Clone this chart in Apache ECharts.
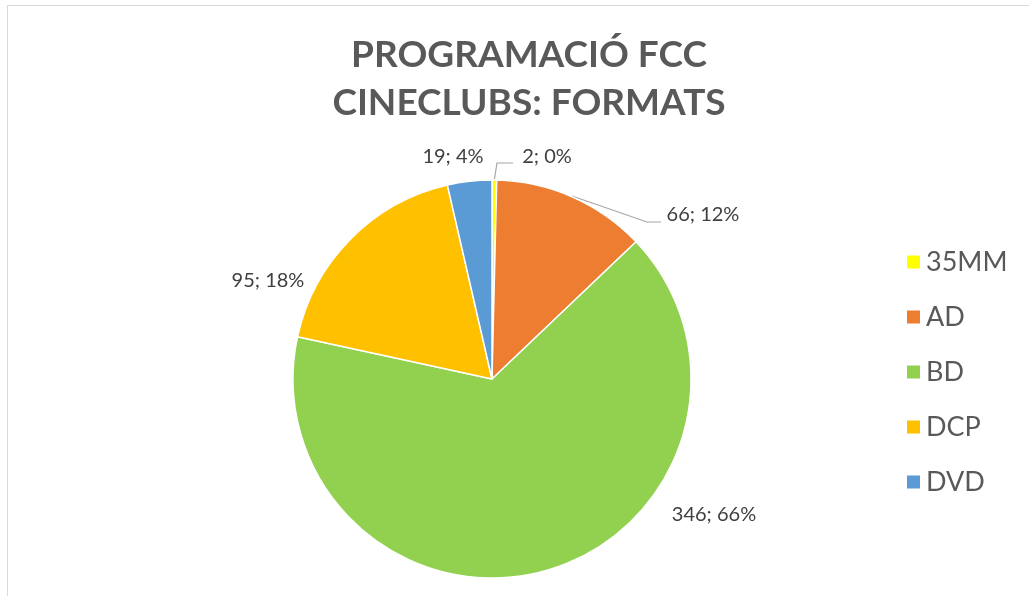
<!DOCTYPE html>
<html style="height: 100%">
<head>
<meta charset="utf-8">
<script src="https://cdn.jsdelivr.net/npm/echarts@6/dist/echarts.min.js"></script>
</head>
<body style="height: 100%; margin: 0; background: #fff">
<div id="frame" style="position:absolute; left:7px; top:5px; right:-2px; bottom:-2px; border-left:1px solid #d9d9d9; border-top:1px solid #d9d9d9"></div>
<div id="container" style="position:absolute; left:0; top:0; width:1029px; height:596px"></div>
<script type="text/javascript">
// dades
var formats = ['35MM', 'AD', 'BD', 'DCP', 'DVD'];
var films = [2, 66, 346, 95, 19];
var percents = ['0%', '12%', '66%', '18%', '4%'];
var colors = ['#FFFF00', '#ED7D31', '#92D050', '#FFC000', '#5B9BD5'];

// on van les etiquetes (centre del text)
var labelAt = [
    {x: 547, y: 157},
    {x: 703, y: 215},
    {x: 714, y: 515},
    {x: 268, y: 281},
    {x: 453, y: 157}
];
var leaderLines = {
    0: [[494, 182], [497, 163], [513, 163]],
    1: [[572, 196], [647, 222], [661, 222]]
};

var font = 'Lato, "Open Sans", sans-serif';
var myChart = echarts.init(document.getElementById('container'));

var option = {
    title: {
        text: 'PROGRAMACIÓ FCC\nCINECLUBS: FORMATS',
        left: 524,
        top: 26,
        textAlign: 'center',
        textStyle: {
            fontFamily: font,
            fontWeight: 'bold',
            fontSize: 37,
            lineHeight: 48,
            color: '#595959'
        }
    },
    legend: {
        orient: 'vertical',
        left: 900,
        top: 243,
        itemWidth: 15,
        itemHeight: 15,
        itemGap: 27,
        icon: 'rect',
        data: formats,
        textStyle: {
            fontFamily: font,
            fontSize: 27,
            lineHeight: 28,
            color: '#595959'
        }
    },
    series: [{
        type: 'pie',
        center: [492, 379],
        radius: 199,
        startAngle: 90,
        clockwise: true,
        color: colors,
        itemStyle: {borderColor: '#fff', borderWidth: 1.5},
        label: {
            show: true,
            position: 'outside',
            fontFamily: font,
            fontSize: 20,
            color: '#404040',
            formatter: function (p) {
                return p.value + '; ' + percents[p.dataIndex];
            }
        },
        labelLine: {
            show: true,
            lineStyle: {color: '#a6a6a6', width: 1.2}
        },
        labelLayout: function (p) {
            var pos = labelAt[p.dataIndex];
            var out = {
                x: pos.x,
                y: pos.y,
                align: 'center',
                verticalAlign: 'middle'
            };
            out.labelLinePoints = leaderLines[p.dataIndex] || [[0, 0], [0, 0], [0, 0]];
            return out;
        },
        data: formats.map(function (f, i) {
            return {name: f, value: films[i]};
        })
    }]
};
myChart.setOption(option);
</script>
</body>
</html>
